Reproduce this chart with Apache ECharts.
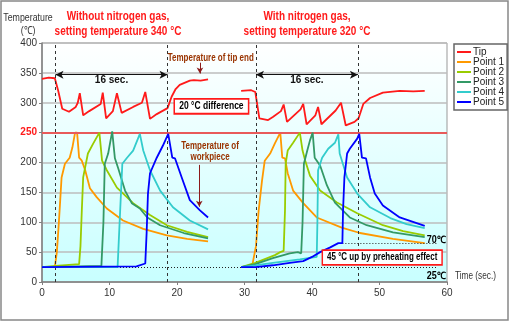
<!DOCTYPE html>
<html><head><meta charset="utf-8">
<script src="https://cdn.jsdelivr.net/npm/echarts@6/dist/echarts.min.js"></script>
<style>html,body{margin:0;padding:0;background:#fff}#c{width:510px;height:323px}</style>
</head><body><div id="c"></div>
<script>
// ---- data (x = time in sec, y = temperature in °C) ----
const seriesNames = ['Tip','Point 1','Point 2','Point 3','Point 4','Point 5'];
const seriesColors = ['#ff1a1a','#ff9900','#99cc00','#339966','#33cccc','#0000ff'];
const xTicks = [0,10,20,30,40,50,60];
const yTicks = [0,50,100,150,200,250,300,350,400];

const tipLeft = [[0,340],[1,342],[1.9,341],[2.4,320],[3,290],[4,285],[5,293],[5.3,300],[5.6,316],[6.1,279],[7,286],[8.7,298],[9.0,317],[9.5,274],[10.5,286],[11.1,316],[11.8,283],[13.5,293],[14.8,300],[15.3,318],[16,273],[17,281],[18.6,291],[19.2,310],[19.8,323],[20.4,330],[21.9,337],[22.5,338],[23.5,337],[24.6,339]];
const tipRight = [[29.5,320],[31,321],[31.6,318],[32.2,274],[33.5,271],[34.2,276],[35.4,286],[35.8,297],[36.3,268],[38.3,289],[38.7,298],[39.2,264],[40.5,279],[40.9,293],[41.4,264],[43.5,287],[44.3,300],[45.0,262],[46.3,268],[46.9,274],[47.6,298],[48.6,308],[50.5,317],[53,320],[55,319],[56.7,320]];

const p1Left = [[0,25],[1.9,25],[2.2,50],[2.5,100],[2.7,137],[2.9,175],[3.4,198],[4.1,208],[4.5,225],[4.9,250],[5.2,250],[5.5,208],[5.9,203],[6.4,187],[7.1,157],[8.1,142],[9.6,123],[12,103],[15,89],[18.5,78],[21.5,72],[24.6,68]];
const p2Left = [[0,25],[2,27],[5.5,30],[5.7,60],[5.9,120],[6.1,175],[6.8,215],[7.6,232],[8.5,250],[8.9,203],[9.6,187],[11.1,158],[13.5,132],[16,112],[18.5,95],[21.5,84],[24.6,75]];
const p3Left = [[0,25],[8.8,27],[9.1,100],[9.3,198],[9.8,215],[10.4,252],[10.8,207],[11.3,190],[12.3,153],[13.3,132],[14.5,123],[15.6,108],[17.5,95],[21,82],[24.6,73]];
const p4Left = [[0,25],[11.2,25],[11.5,100],[11.9,198],[12.6,208],[13.5,220],[14.5,248],[15,220],[16,187],[17.5,153],[19.4,125],[21.9,103],[24.6,88]];
const p5Left = [[0,25],[14,26],[15.3,31],[15.5,82],[15.7,148],[16,182],[17,208],[17.9,228],[18.7,248],[19.3,208],[19.7,207],[20.7,175],[21.9,137],[23.4,120],[24.6,108]];

const p1Right = [[29.5,25],[31.1,25],[31.7,60],[32.1,120],[32.6,170],[33,203],[33.8,215],[34.5,232],[35.3,250],[35.6,208],[36,207],[36.4,182],[37.2,153],[38.7,132],[40.7,108],[44.4,91],[47.1,82],[52,72],[56.7,65]];
const p2Right = [[29.5,25],[31.6,32],[34.5,45],[35.3,50],[35.5,47],[35.8,52],[36,120],[36.1,198],[36.4,220],[37.2,233],[38.2,250],[38.6,220],[39,203],[39.7,178],[41.2,153],[43.7,133],[46.7,115],[50.5,95],[53.5,85],[56.7,78]];
const p3Right = [[29.5,25],[31.6,30],[34.2,40],[36.7,48],[37.9,50],[38.4,48],[38.6,100],[38.8,198],[39.3,220],[39.7,237],[40.1,250],[40.4,208],[41.2,195],[42.2,162],[43.4,133],[44.1,125],[45.6,108],[48.1,95],[52,83],[56.7,75]];
const p4Right = [[29.5,25],[31.6,28],[34.2,32],[38.2,38],[40.7,42],[40.8,100],[40.9,187],[41.5,208],[42.4,223],[43.4,233],[43.9,247],[44.1,215],[45.2,175],[46.7,148],[48.6,125],[51.6,107],[54,97],[56.7,90]];
const p5Right = [[29.5,25],[31.6,25],[34.2,28],[36.7,32],[38.7,35],[40,42],[41.2,50],[42.7,58],[43.9,65],[44.5,65],[44.6,120],[44.8,175],[45.2,215],[45.6,223],[46.7,240],[47,248],[47.4,208],[48,207],[48.6,175],[49.3,148],[50.5,128],[53,108],[56.7,94]];

const leftData = [tipLeft,p1Left,p2Left,p3Left,p4Left,p5Left];
const rightData = [tipRight,p1Right,p2Right,p3Right,p4Right,p5Right];

// reference lines
const limitTemp = 250;
const dashedTimes = [2,18.6,31.7,46.8];
const spanLeft = [2,18.6], spanRight = [31.7,46.8], spanY = 347, spanText = '16 sec.';
const dottedLines = [[[0,25],[58.6,25]],[[44.5,65],[58.6,65]]];
const arrowTip = [[23.4,367],[23.4,349]];
const arrowWork = [[23.3,196],[23.3,126]];

const FONT = '"Liberation Sans", Arial, sans-serif';

const series = [];
seriesNames.forEach((n,i)=>{
  [leftData[i], rightData[i]].forEach(d=>{
    series.push({name:n,type:'line',data:d,showSymbol:false,symbol:'none',
      lineStyle:{color:seriesColors[i],width:1.8},itemStyle:{color:seriesColors[i]},
      z:3+i,animation:false});
  });
});
series.push({type:'line',data:[],silent:true,animation:false,z:2,
  markLine:{silent:true,symbol:'none',animation:false,
    data:[
      {yAxis:limitTemp,lineStyle:{color:'#e85a5a',width:2,type:'solid'},label:{show:false}},
      ...dashedTimes.map(t=>({xAxis:t,lineStyle:{color:'#333',width:1,type:[3,3]},label:{show:false}})),
      ...dottedLines.map(l=>[{coord:l[0],lineStyle:{color:'#222',width:1,type:[1,2]},label:{show:false}},{coord:l[1]}])
    ]}});
series.push({type:'line',data:[],silent:true,animation:false,z:10,
  markLine:{silent:true,animation:false,symbol:['arrow','arrow'],symbolSize:[6,8],
    lineStyle:{color:'#111',width:1.2,type:'solid'},
    label:{show:true,formatter:spanText,position:'insideMiddleBottom',distance:1,color:'#111',fontWeight:'bold',fontSize:10,fontFamily:FONT},
    data:[[{coord:[spanLeft[0],spanY]},{coord:[spanLeft[1],spanY]}],[{coord:[spanRight[0],spanY]},{coord:[spanRight[1],spanY]}]]}});
series.push({type:'line',data:[],silent:true,animation:false,z:10,
  markLine:{silent:true,animation:false,symbol:['none','arrow'],symbolSize:[5,6],
    lineStyle:{color:'#8b1a1a',width:1,type:'solid'},label:{show:false},
    data:[[{coord:arrowTip[0]},{coord:arrowTip[1]}],[{coord:arrowWork[0]},{coord:arrowWork[1]}]]}});

const chart = echarts.init(document.getElementById('c'),null,{renderer:'canvas'});
chart.setOption({
  animation:false,
  textStyle:{fontFamily:FONT},
  grid:{left:42,top:43,right:63,bottom:41,show:true,borderColor:'#999',borderWidth:1,
    backgroundColor:new echarts.graphic.LinearGradient(0,0,0,1,[{offset:0,color:'#ffffff'},{offset:1,color:'#c8ffff'}])},
  legend:{data:seriesNames,orient:'vertical',left:454,top:44,itemWidth:14,itemHeight:2,itemGap:0,icon:'rect',
    borderColor:'#666',borderWidth:1.5,backgroundColor:'#fff',padding:[3,3,3,3],
    textStyle:{fontSize:10,color:'#222',lineHeight:10,padding:[0,0,0,-3]},selectedMode:false},
  xAxis:{type:'value',min:xTicks[0],max:xTicks[xTicks.length-1],interval:10,
    axisLine:{lineStyle:{color:'#808080',width:1.5}},axisTick:{show:true,length:3,lineStyle:{color:'#808080'}},
    axisLabel:{fontSize:10,color:'#333',margin:6},splitLine:{show:false}},
  yAxis:{type:'value',min:yTicks[0],max:yTicks[yTicks.length-1],interval:50,
    axisLine:{show:true,lineStyle:{color:'#808080',width:1.5}},axisTick:{show:true,length:3,lineStyle:{color:'#808080'}},
    axisLabel:{fontSize:10,color:'#333',margin:5,formatter:v=>v===limitTemp?'{r|'+v+'}':''+v,rich:{r:{color:'#ff1a1a',fontWeight:'bold',fontSize:10}}},
    splitLine:{show:true,lineStyle:{color:'#bdbdbd',width:1.5}}},
  series:series
});

// texts (horizontally condensed to mimic the narrow original font)
const P = (x,y)=>chart.convertToPixel({gridIndex:0},[x,y]);
const txt = (pos,text,style,sx)=>({type:'text',x:pos[0],y:pos[1],z:20,silent:true,scaleX:sx||0.8,
  style:Object.assign({text:text,fontFamily:FONT,align:'center',verticalAlign:'middle'},style)});
const red = {fill:'#ff1a1a',fontWeight:'bold',fontSize:12.5};
const brown = {fill:'#993300',fontWeight:'bold',fontSize:10};
const boxed = {fill:'#000',fontWeight:'bold',fontSize:10,backgroundColor:'#fff',borderColor:'#ff1a1a',borderWidth:1.8,padding:[2,5,1,5]};
chart.setOption({graphic:[
  {type:'rect',shape:{x:1,y:1,width:507,height:319},style:{fill:'none',stroke:'#888',lineWidth:1.5},z:0,silent:true},
  txt([28,18],'Temperature',{fill:'#333',fontSize:11}),
  txt([28,31],'(℃)',{fill:'#333',fontSize:11}),
  txt([118,17],'Without nitrogen gas,',red),
  txt([118,32],'setting temperature 340 °C',red),
  txt([307,17],'With nitrogen gas,',red),
  txt([307,32],'setting temperature 320 °C',red),
  txt([455,276],'Time (sec.)',{fill:'#333',fontSize:11,align:'left'},0.75),
  txt(P(25.0,375),'Temperature of tip end',brown),
  txt(P(24.9,227),'Temperature of',brown),
  txt(P(24.9,208),'workpiece',brown),
  txt(P(25.1,294),'20 °C difference',boxed,0.85),
  txt(P(50.4,41),'45 °C up by preheating effect',boxed),
  txt(P(58.4,70),'70℃',{fill:'#000',fontWeight:'bold',fontSize:10},0.9),
  txt(P(58.4,10),'25℃',{fill:'#000',fontWeight:'bold',fontSize:10},0.9)
]});
</script></body></html>
